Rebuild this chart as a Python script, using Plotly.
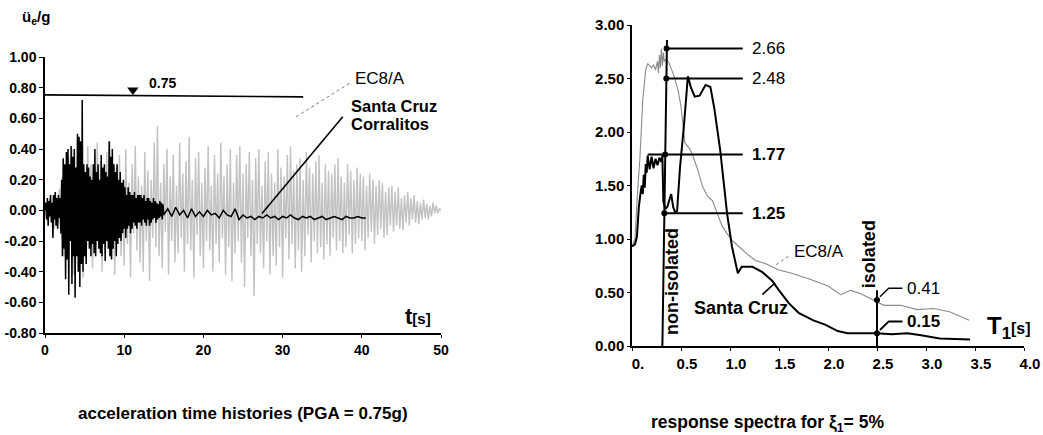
import numpy as np
import plotly.graph_objects as go

# ---------------- data: acceleration time histories ----------------
ec8_dt = 0.2
ec8_acc = [
    0.00, 0.04, -0.06, 0.08, -0.05, 0.10, -0.12, 0.07, -0.09, 0.14,
    -0.16, 0.22, -0.30, 0.12, -0.26, 0.35, -0.18, 0.40, -0.42, 0.20,
    -0.30, 0.46, -0.22, 0.28, -0.44, 0.15, -0.35, 0.42, -0.20, 0.30,
    -0.38, 0.18, -0.25, 0.44, -0.15, 0.32, -0.40, 0.22, -0.28, 0.38,
    -0.18, 0.45, -0.32, 0.20, -0.42, 0.28, -0.16, 0.36, -0.30, 0.14,
    -0.36, 0.40, -0.22, 0.18, -0.44, 0.30, -0.15, 0.42, -0.26, 0.22,
    -0.34, 0.16, -0.40, 0.38, -0.20, 0.26, -0.46, 0.20, -0.18, 0.44,
    -0.24, 0.55, -0.30, 0.18, -0.38, 0.30, -0.14, 0.40, -0.42, 0.22,
    -0.20, 0.36, -0.34, 0.16, -0.28, 0.44, -0.18, 0.24, -0.40, 0.32,
    -0.22, 0.48, -0.26, 0.20, -0.44, 0.34, -0.16, 0.38, -0.30, 0.18,
    -0.38, 0.28, -0.20, 0.42, -0.26, 0.16, -0.40, 0.36, -0.22, 0.24,
    -0.34, 0.44, -0.18, 0.22, -0.42, 0.30, -0.24, 0.40, -0.46, 0.18,
    -0.28, 0.36, -0.20, 0.42, -0.34, 0.24, -0.50, 0.30, -0.18, 0.38,
    -0.30, 0.20, -0.56, 0.34, -0.22, 0.40, -0.28, 0.16, -0.38, 0.32,
    -0.20, 0.38, -0.42, 0.24, -0.30, 0.18, -0.36, 0.40, -0.24, 0.28,
    -0.44, 0.22, -0.18, 0.36, -0.32, 0.42, -0.22, 0.26, -0.38, 0.30,
    -0.26, 0.34, -0.40, 0.20, -0.30, 0.38, -0.16, 0.28, -0.34, 0.24,
    -0.20, 0.32, -0.28, 0.36, -0.24, 0.18, -0.32, 0.30, -0.22, 0.26,
    -0.30, 0.24, -0.18, 0.30, -0.26, 0.34, -0.20, 0.22, -0.28, 0.18,
    -0.24, 0.30, -0.16, 0.26, -0.28, 0.20, -0.22, 0.28, -0.18, 0.24,
    -0.20, 0.22, -0.26, 0.16, -0.18, 0.24, -0.14, 0.20, -0.22, 0.16,
    -0.16, 0.20, -0.12, 0.18, -0.18, 0.12, -0.16, 0.15, -0.10, 0.16,
    -0.14, 0.12, -0.10, 0.15, -0.12, 0.08, -0.13, 0.10, -0.08, 0.12,
    -0.10, 0.08, -0.06, 0.10, -0.08, 0.06, -0.09, 0.05, -0.06, 0.07,
    -0.05, 0.04, -0.06, 0.03, -0.04, 0.05, -0.02, 0.03, -0.02, 0.01,
    0.00,
]

sc_dt_strong = 0.1   # 0 - 15 s
sc_acc_strong = [
    0.00, 0.05, -0.06, 0.08, -0.10, 0.06, -0.04, 0.10, -0.08, 0.05,
    -0.18, 0.10, -0.06, 0.12, -0.10, 0.08, -0.12, 0.10, -0.05, 0.08,
    -0.15, 0.20, -0.30, 0.34, -0.25, 0.30, -0.45, 0.38, -0.32, 0.40,
    -0.55, 0.30, -0.20, 0.42, -0.48, 0.35, -0.30, 0.40, -0.57, 0.28,
    -0.30, 0.50, -0.40, 0.48, -0.50, 0.45, -0.35, 0.72, -0.40, 0.30,
    -0.30, 0.25, -0.35, 0.30, -0.20, 0.28, -0.25, 0.22, -0.30, 0.20,
    -0.22, 0.30, -0.28, 0.40, -0.30, 0.25, -0.20, 0.30, -0.25, 0.20,
    -0.28, 0.36, -0.30, 0.28, -0.22, 0.30, -0.33, 0.25, -0.20, 0.22,
    -0.25, 0.45, -0.30, 0.35, -0.32, 0.40, -0.25, 0.30, -0.20, 0.25,
    -0.30, 0.30, -0.22, 0.20, -0.18, 0.25, -0.20, 0.18, -0.15, 0.20,
    -0.12, 0.15, -0.18, 0.10, -0.12, 0.15, -0.10, 0.12, -0.15, 0.10,
    -0.12, 0.10, -0.08, 0.12, -0.10, 0.08, -0.12, 0.10, -0.08, 0.10,
    -0.08, 0.10, -0.10, 0.08, -0.06, 0.10, -0.08, 0.06, -0.10, 0.08,
    -0.06, 0.08, -0.10, 0.06, -0.08, 0.05, -0.06, 0.08, -0.05, 0.06,
    -0.08, 0.05, -0.06, 0.04, -0.05, 0.06, -0.04, 0.05, -0.06, 0.04,
]
sc_dt_tail = 0.5     # 15 - 40.5 s
sc_acc_tail = [
    -0.03, 0.01, -0.04, 0.02, -0.03, 0.00, -0.05, 0.01, -0.04, -0.01,
    -0.04, 0.00, -0.03, -0.02, -0.05, 0.00, -0.03, -0.04, 0.01, -0.06,
    -0.03, -0.05, -0.04, -0.06, -0.04, -0.05, -0.03, -0.05, -0.04, -0.06,
    -0.04, -0.05, -0.03, -0.05, -0.06, -0.04, -0.05, -0.04, -0.06, -0.05,
    -0.04, -0.06, -0.05, -0.04, -0.05, -0.06, -0.04, -0.05, -0.05, -0.04,
    -0.05, -0.05,
]

acc_xticks = [0, 10, 20, 30, 40, 50]
acc_yticks = [-0.8, -0.6, -0.4, -0.2, 0.0, 0.2, 0.4, 0.6, 0.8, 1.0]
acc_yticktext = ["-0.80", "-0.60", "-0.40", "-0.20", "0.00", "0.20", "0.40", "0.60", "0.80", "1.00"]
pga_level = 0.75

# ---------------- data: response spectra ----------------
ec8_T = [0.00, 0.03, 0.06, 0.08, 0.11, 0.14, 0.16, 0.18, 0.20, 0.22,
         0.24, 0.26, 0.27, 0.28, 0.29, 0.30, 0.31, 0.32, 0.33, 0.35,
         0.38, 0.43, 0.47, 0.50, 0.54, 0.59, 0.62, 0.67, 0.72, 0.77,
         0.82, 0.87, 0.92, 0.97, 1.02, 1.09, 1.16, 1.26, 1.36, 1.50,
         1.63, 1.83, 2.00, 2.13, 2.23, 2.33, 2.47, 2.57, 2.74, 2.91,
         3.08, 3.24, 3.44]
ec8_Sa = [0.93, 1.00, 1.49, 1.74, 2.30, 2.58, 2.64, 2.62, 2.60, 2.63,
          2.58, 2.66, 2.55, 2.72, 2.60, 2.78, 2.62, 2.74, 2.66, 2.68,
          2.64, 2.52, 2.39, 2.24, 1.90, 1.84, 1.78, 1.65, 1.49, 1.40,
          1.36, 1.24, 1.12, 1.05, 0.99, 0.93, 0.87, 0.80, 0.77, 0.71,
          0.68, 0.62, 0.56, 0.48, 0.52, 0.49, 0.43, 0.38, 0.38, 0.34,
          0.35, 0.32, 0.24]

sc_T = [0.00, 0.03, 0.05, 0.07, 0.09, 0.10, 0.11, 0.12, 0.13, 0.14,
        0.15, 0.16, 0.18, 0.20, 0.22, 0.24, 0.26, 0.28, 0.30, 0.31,
        0.32, 0.34, 0.36, 0.38, 0.40, 0.42, 0.44, 0.46, 0.49, 0.53,
        0.57, 0.60, 0.64, 0.69, 0.75, 0.80, 0.84, 0.90, 0.97, 1.02,
        1.08, 1.12, 1.23, 1.33, 1.43, 1.50, 1.60, 1.70, 1.85, 1.97,
        2.10, 2.20, 2.35, 2.50, 2.65, 2.81, 2.95, 3.14, 3.45]
sc_Sa = [0.93, 0.95, 1.02, 1.30, 1.45, 1.50, 1.42, 1.60, 1.48, 1.70,
         1.62, 1.78, 1.65, 1.77, 1.66, 1.75, 1.69, 1.76, 1.72, 1.78,
         1.35, 1.28, 1.30, 1.35, 1.42, 1.30, 1.25, 1.26, 1.67, 2.06,
         2.52, 2.42, 2.33, 2.34, 2.44, 2.42, 2.22, 1.83, 1.24, 0.93,
         0.68, 0.74, 0.74, 0.69, 0.61, 0.52, 0.40, 0.31, 0.24, 0.20,
         0.14, 0.12, 0.12, 0.12, 0.11, 0.12, 0.10, 0.07, 0.06]

spec_xticks = [0, 0.5, 1.0, 1.5, 2.0, 2.5, 3.0, 3.5, 4.0]
spec_xticktext = ["0.", "0.5", "1.0", "1.5", "2.0", "2.5", "3.0", "3.5", "4.0"]
spec_yticks = [0, 0.5, 1.0, 1.5, 2.0, 2.5, 3.0]
spec_yticktext = ["0.00", "0.50", "1.00", "1.50", "2.00", "2.50", "3.00"]

# marked spectral values (label, drawn level, line start, bold?)
mark_labels = ["2.66", "2.48", "1.77", "1.25"]
mark_levels = [2.78, 2.50, 1.79, 1.24]
mark_start = [0.353, 0.350, 0.16, 0.33]
mark_dot_T = [0.353, 0.350, 0.338, 0.33]
mark_bold = [False, False, True, True]
mark_end = 1.13

T_isolated = 2.5
iso_labels = ["0.41", "0.15"]
iso_levels = [0.43, 0.12]
iso_text_levels = [0.54, 0.23]
iso_bold = [False, True]

# ---------------- figure ----------------
FONT = "Liberation Sans, Arial, Helvetica, sans-serif"
W, H = 1043, 435

def px_x(p):
    return p / W

def px_y(p):
    return 1 - p / H

fig = go.Figure()

ec8_time = np.round(np.arange(len(ec8_acc)) * ec8_dt, 3)
sc_time = np.concatenate([
    np.round(np.arange(len(sc_acc_strong)) * sc_dt_strong, 3),
    np.round(15 + np.arange(len(sc_acc_tail)) * sc_dt_tail, 3),
])
sc_acc = list(sc_acc_strong) + list(sc_acc_tail)

fig.add_trace(go.Scatter(x=ec8_time, y=ec8_acc, mode="lines",
                         line=dict(color="#c2c2c2", width=1.4),
                         xaxis="x", yaxis="y", hoverinfo="skip"))
fig.add_trace(go.Scatter(x=sc_time, y=sc_acc, mode="lines",
                         line=dict(color="black", width=1.5),
                         xaxis="x", yaxis="y", hoverinfo="skip"))

# PGA marker triangle
fig.add_trace(go.Scatter(x=[11.1], y=[0.785], mode="markers",
                         marker=dict(symbol="triangle-down", size=10, color="black"),
                         xaxis="x", yaxis="y", hoverinfo="skip"))

# spectra
fig.add_trace(go.Scatter(x=ec8_T, y=ec8_Sa, mode="lines",
                         line=dict(color="#8a8a8a", width=1.1),
                         xaxis="x2", yaxis="y2", hoverinfo="skip"))
fig.add_trace(go.Scatter(x=sc_T, y=sc_Sa, mode="lines",
                         line=dict(color="black", width=2),
                         xaxis="x2", yaxis="y2", hoverinfo="skip"))

shapes = []
# left: PGA line and leaders
shapes.append(dict(type="line", xref="x", yref="y", x0=0, x1=32.6, y0=pga_level + 0.003,
                   y1=pga_level - 0.01, line=dict(color="black", width=1.6)))
shapes.append(dict(type="line", xref="x", yref="y", x0=31.7, y0=0.61, x1=38.5, y1=0.83,
                   line=dict(color="#7a7a7a", width=1, dash="dot")))
shapes.append(dict(type="line", xref="x", yref="y", x0=27.4, y0=-0.02, x1=37.6, y1=0.61,
                   line=dict(color="black", width=1.6)))

# right: non-isolated / isolated verticals
shapes.append(dict(type="line", xref="x2", yref="y2", x0=0.31, y0=0, x1=0.357, y1=2.86,
                   line=dict(color="black", width=2)))
shapes.append(dict(type="line", xref="x2", yref="y2", x0=T_isolated, y0=0, x1=T_isolated,
                   y1=0.52, line=dict(color="black", width=2)))
for lv, x0 in zip(mark_levels, mark_start):
    shapes.append(dict(type="line", xref="x2", yref="y2", x0=x0, x1=mark_end, y0=lv, y1=lv,
                       line=dict(color="black", width=2)))
# leaders on the right
shapes.append(dict(type="line", xref="x2", yref="y2", x0=1.47, y0=0.76, x1=1.60, y1=0.84,
                   line=dict(color="#7a7a7a", width=1, dash="dot")))
shapes.append(dict(type="line", xref="x2", yref="y2", x0=1.33, y0=0.48, x1=1.46, y1=0.59,
                   line=dict(color="black", width=1.6)))

for lv, tl, b in zip(iso_levels, iso_text_levels, iso_bold):
    fig.add_trace(go.Scatter(x=[T_isolated + 0.03, T_isolated + 0.12, T_isolated + 0.26],
                             y=[lv + 0.03, tl, tl], mode="lines",
                             line=dict(color="black", width=2 if b else 1.4),
                             xaxis="x2", yaxis="y2", hoverinfo="skip"))

# dots
fig.add_trace(go.Scatter(x=mark_dot_T + [T_isolated, T_isolated],
                         y=mark_levels + iso_levels, mode="markers",
                         marker=dict(size=6, color="black"),
                         xaxis="x2", yaxis="y2", hoverinfo="skip"))

annotations = []

def ann(text, x, y, xref, yref, size, bold=False, xanchor="left", yanchor="middle", **kw):
    d = dict(text=text, x=x, y=y, xref=xref, yref=yref, showarrow=False,
             xanchor=xanchor, yanchor=yanchor,
             font=dict(family=FONT, size=size, color="black",
                       weight="bold" if bold else "normal"))
    d.update(kw)
    annotations.append(d)

# left annotations
ann("0.75", 12.9, 0.83, "x", "y", 14, True)
ann("EC8/A", 38.9, 0.857, "x", "y", 17)
ann("Santa Cruz", 38.4, 0.678, "x", "y", 16.5, True)
ann("Corralitos", 38.4, 0.566, "x", "y", 16.5, True)
ann("t<span style='font-size:15px'>[s]</span>", 45.2, -0.69, "x", "y", 22, True)
ann("ü<sub>e</sub>/g", px_x(36), px_y(17), "paper", "paper", 15, True, xanchor="center")
ann("acceleration time histories (PGA = 0.75g)", px_x(243), px_y(413), "paper", "paper",
    17, True, xanchor="center")

# right annotations
for lab, lv, b in zip(mark_labels, mark_levels, mark_bold):
    ann(lab, 1.20, lv, "x2", "y2", 17, b)
for lab, tl, b in zip(iso_labels, iso_text_levels, iso_bold):
    ann(lab, 2.79, tl, "x2", "y2", 17, b)
ann("non-isolated", 0.41, 0.60, "x2", "y2", 18, True, xanchor="center", textangle=-90)
ann("isolated", 2.42, 0.86, "x2", "y2", 18, True, xanchor="center", textangle=-90)
ann("EC8/A", 1.63, 0.88, "x2", "y2", 17)
ann("Santa Cruz", 0.61, 0.355, "x2", "y2", 18, True)
ann("T<sub>1</sub><span style='font-size:16px'>[s]</span>", 3.6, 0.17, "x2", "y2", 24, True)
ann("response spectra for ξ<sub>1</sub>= 5%", px_x(767), px_y(423), "paper", "paper",
    17.5, True, xanchor="center")

tickfont = lambda s: dict(family=FONT, size=s, color="black")
bold = lambda labels: ["<b>%s</b>" % t for t in labels]

fig.update_layout(
    width=W, height=H,
    margin=dict(l=0, r=0, t=0, b=0),
    paper_bgcolor="white", plot_bgcolor="white",
    showlegend=False,
    font=dict(family=FONT, color="black"),
    xaxis=dict(domain=[px_x(45), px_x(441)], range=[0, 50], anchor="y",
               tickmode="array", tickvals=acc_xticks,
               ticktext=bold([str(v) for v in acc_xticks]),
               showline=True, linecolor="black", linewidth=1.5, ticks="outside",
               ticklen=3, tickcolor="black", showgrid=False, zeroline=False,
               tickfont=tickfont(14), automargin=False),
    yaxis=dict(domain=[px_y(333), px_y(57)], range=[-0.8, 1.0], anchor="x",
               tickmode="array", tickvals=acc_yticks, ticktext=bold(acc_yticktext),
               showline=True, linecolor="black", linewidth=1.5, ticks="outside",
               ticklen=4, tickcolor="black", showgrid=False, zeroline=False,
               tickfont=tickfont(14), automargin=False),
    xaxis2=dict(domain=[px_x(632), px_x(1024)], range=[0, 4], anchor="y2",
                tickmode="array", tickvals=spec_xticks, ticktext=bold(spec_xticktext),
                ticklabelshift=6,
                showline=True, linecolor="black", linewidth=2, ticks="outside",
                ticklen=3, tickcolor="black", showgrid=False, zeroline=False,
                tickfont=tickfont(15), automargin=False),
    yaxis2=dict(domain=[px_y(346), px_y(25)], range=[0, 3], anchor="x2",
                tickmode="array", tickvals=spec_yticks, ticktext=bold(spec_yticktext),
                showline=True, linecolor="black", linewidth=1.5, ticks="outside",
                ticklen=3, tickcolor="black", showgrid=False, zeroline=False,
                tickfont=tickfont(15), automargin=False),
    shapes=shapes,
    annotations=annotations,
)

fig.write_html("out.html",
               config={"displayModeBar": False},
               post_script="document.body.style.margin='0';document.body.style.overflow='hidden';")
